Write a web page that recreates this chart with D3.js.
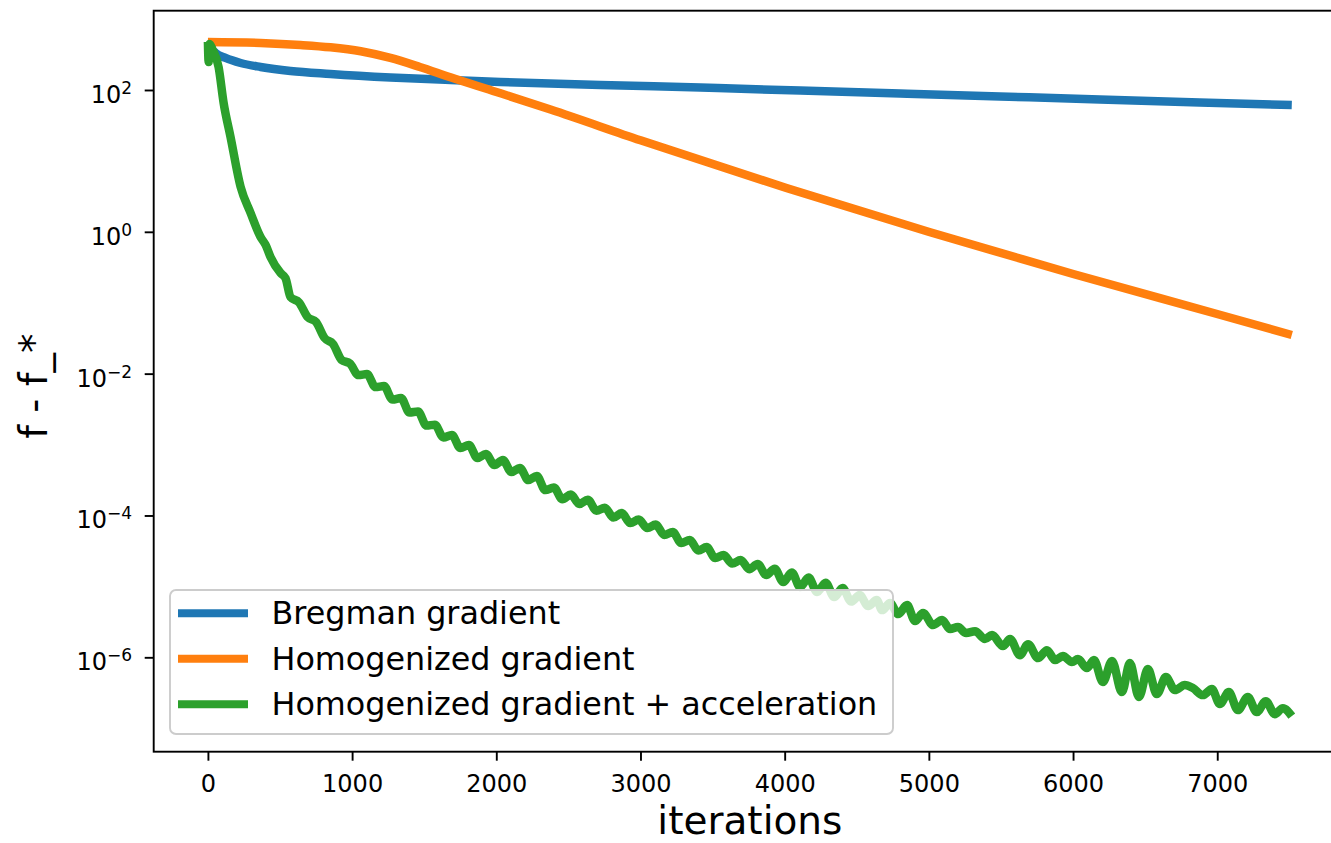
<!DOCTYPE html>
<html>
<head>
<meta charset="utf-8">
<script src="https://cdn.jsdelivr.net/npm/d3@7"></script>
<style>
  body { margin: 0; background: #fff; }
  text { font-family: "DejaVu Sans", sans-serif; fill: #000; }
</style>
</head>
<body>
<script>
// iterations / f - f_* for each method
var bregIter = [0, 19, 53, 122, 227, 365, 573, 850, 1266, 1682, 2029, 2722, 3415, 4108, 4801, 5494, 6186, 6879, 7517];
var bregVal = [475, 391, 333, 283, 240, 211, 185, 168, 150, 138, 130, 118, 108, 98.4, 89.3, 81.0, 73.4, 66.7, 61.4];

var homIter = [0, 365, 642, 850, 1060, 1266, 1470, 1682, 2001, 2376, 3000, 4012, 5003, 6001, 6999, 7517];
var homVal = [475, 460, 431, 400, 352, 283, 211, 151, 93.7, 53.0, 19.5, 4.15, 0.993, 0.254, 0.0693, 0.0351];

var accIter = [0, 5, 12, 33, 74, 109, 157, 227, 296, 365, 400, 434, 504, 538, 573,
  632, 691, 750, 809, 868, 927, 985, 1044, 1103, 1162, 1221, 1280, 1339, 1398, 1457,
  1516, 1574, 1633, 1692, 1751, 1810, 1869, 1928, 1987, 2046, 2105, 2164, 2222, 2281,
  2340, 2399, 2458, 2517, 2576, 2635, 2694, 2753, 2812, 2870, 2929, 2988, 3047, 3106,
  3165, 3224, 3283, 3342, 3401, 3459, 3518, 3577, 3636, 3695, 3754, 3813, 3872, 3931,
  3990, 4049, 4107, 4166, 4225, 4284, 4343, 4402, 4461, 4520, 4579, 4638, 4676, 4731,
  4787, 4849, 4904, 4960, 5029, 5092, 5147, 5202, 5258, 5320, 5389, 5438, 5514, 5563,
  5632, 5688, 5757, 5819, 5875, 5930, 5992, 6034, 6096, 6145, 6207, 6270, 6339, 6394,
  6457, 6519, 6581, 6644, 6706, 6775, 6831, 6900, 6963, 7018, 7080, 7143, 7212, 7274,
  7337, 7399, 7455, 7517];
var accVal = [475, 248, 446, 367, 211, 65.6, 21.7, 4.29, 1.84, 0.845, 0.652, 0.442, 0.262, 0.223, 0.120,
  0.101, 0.0628, 0.0535, 0.0318, 0.0262, 0.0156, 0.0139, 0.00955, 0.00986, 0.00647, 0.00668, 0.00431, 0.00453, 0.00283, 0.00292,
  0.00185, 0.00191, 0.00126, 0.00136, 8.93e-4, 9.84e-4, 6.46e-4, 7.35e-4, 5.14e-4, 6.05e-4, 4.09e-4, 4.67e-4, 3.16e-4, 3.60e-4,
  2.28e-4, 2.48e-4, 1.70e-4, 1.97e-4, 1.45e-4, 1.67e-4, 1.17e-4, 1.29e-4, 9.35e-5, 1.08e-4, 7.82e-5, 8.75e-5, 6.64e-5, 7.45e-5,
  5.30e-5, 5.83e-5, 4.08e-5, 4.50e-5, 3.20e-5, 3.58e-5, 2.51e-5, 2.77e-5, 2.10e-5, 2.35e-5, 1.75e-5, 2.07e-5, 1.45e-5, 1.78e-5,
  1.15e-5, 1.57e-5, 9.77e-6, 1.33e-5, 8.32e-6, 1.13e-5, 7.06e-6, 9.46e-6, 6.11e-6, 7.54e-6, 5.27e-6, 6.41e-6, 4.63e-6, 5.82e-6,
  4.07e-6, 5.45e-6, 3.24e-6, 4.21e-6, 2.85e-6, 3.35e-6, 2.50e-6, 2.67e-6, 2.20e-6, 2.34e-6, 1.81e-6, 2.06e-6, 1.44e-6, 1.81e-6,
  1.07e-6, 1.53e-6, 9.75e-7, 1.26e-6, 9.14e-7, 1.04e-6, 8.57e-7, 9.44e-7, 7.05e-7, 9.14e-7, 4.47e-7, 8.85e-7, 3.23e-7, 8.28e-7,
  2.75e-7, 6.82e-7, 3.03e-7, 5.26e-7, 3.45e-7, 4.06e-7, 3.68e-7, 2.93e-7, 3.56e-7, 2.19e-7, 3.23e-7, 1.80e-7, 2.75e-7, 1.69e-7,
  2.41e-7, 1.58e-7, 1.92e-7, 1.48e-7];

var seriesNames = ["Bregman gradient", "Homogenized gradient", "Homogenized gradient + acceleration"];
var seriesColors = ["#1f77b4", "#ff7f0e", "#2ca02c"];

var xTicks = [0, 1000, 2000, 3000, 4000, 5000, 6000, 7000];
var yTicks = [1e-6, 1e-4, 1e-2, 1e0, 1e2];
var yTickExp = ["\u22126", "\u22124", "\u22122", "0", "2"];

window.onload = function(){
    var w = 1331, h = 843;
    // plot box (right spine falls just outside the picture)
    var left = 153.7, right = 1346, top = 10.7, bottom = 751.7;

    var svg = d3.select("body")
      .append("svg")
      .attr("width", w)
      .attr("height", h);

    var x = d3.scaleLinear()
      .domain([-376, 7893])
      .range([left, right]);

    var y = d3.scaleLog()
      .domain([Math.pow(10, -7.331), Math.pow(10, 3.118)])
      .range([bottom, top]);

    svg.append("clipPath")
      .attr("id", "plotclip")
      .append("rect")
      .attr("x", left).attr("y", top)
      .attr("width", right - left).attr("height", bottom - top);

    var line = d3.line()
      .x(function(d){ return x(d[0]); })
      .y(function(d){ return y(d[1]); })
      .curve(d3.curveMonotoneX);

    var series = [d3.zip(bregIter, bregVal), d3.zip(homIter, homVal), d3.zip(accIter, accVal)];

    var lines = svg.append("g").attr("clip-path", "url(#plotclip)");
    series.forEach(function(s, i){
        lines.append("path")
          .datum(s)
          .attr("d", line)
          .attr("fill", "none")
          .attr("stroke", seriesColors[i])
          .attr("stroke-width", 8.5)
          .attr("stroke-linejoin", "round")
          .attr("stroke-linecap", "butt");
    });

    // x axis
    var xAxis = d3.axisBottom(x)
      .tickValues(xTicks)
      .tickFormat(d3.format("d"))
      .tickSize(9)
      .tickPadding(7);
    var gx = svg.append("g")
      .attr("transform", "translate(0," + bottom + ")")
      .call(xAxis);
    gx.select(".domain").remove();
    gx.selectAll(".tick line").attr("stroke", "#000").attr("stroke-width", 1.9);
    gx.selectAll(".tick text")
      .attr("font-family", "DejaVu Sans")
      .attr("font-size", 24)
      .attr("fill", "#000")
      .attr("dy", null)
      .attr("y", 40);

    // y axis, ticks only; labels are 10 with a superscript
    var yAxis = d3.axisLeft(y)
      .tickValues(yTicks)
      .tickFormat("")
      .tickSize(9);
    var gy = svg.append("g")
      .attr("transform", "translate(" + left + ",0)")
      .call(yAxis);
    gy.select(".domain").remove();
    gy.selectAll(".tick line").attr("stroke", "#000").attr("stroke-width", 1.9);

    var ylab = svg.append("g").selectAll("text")
      .data(yTicks)
      .enter().append("text")
      .attr("x", 132)
      .attr("y", function(d){ return y(d) + 13; })
      .attr("text-anchor", "end")
      .attr("font-size", 24);
    ylab.append("tspan").text("10");
    ylab.append("tspan")
      .attr("font-size", 17)
      .attr("dy", -9)
      .text(function(d, i){ return yTickExp[i]; });

    // spines
    svg.append("rect")
      .attr("x", left).attr("y", top)
      .attr("width", right - left).attr("height", bottom - top)
      .attr("fill", "none")
      .attr("stroke", "#000")
      .attr("stroke-width", 1.9);

    // axis titles
    svg.append("text")
      .attr("x", (left + right) / 2)
      .attr("y", 833.5)
      .attr("text-anchor", "middle")
      .attr("font-size", 39)
      .text("iterations");

    svg.append("text")
      .attr("transform", "translate(47," + ((top + bottom) / 2 + 5) + ") rotate(-90)")
      .attr("text-anchor", "middle")
      .attr("font-size", 39)
      .text("f - f_*");

    // legend
    var legend = svg.append("g");
    legend.append("rect")
      .attr("x", 170).attr("y", 590)
      .attr("width", 723).attr("height", 144)
      .attr("rx", 6).attr("ry", 6)
      .attr("fill", "#fff")
      .attr("fill-opacity", 0.8)
      .attr("stroke", "#cccccc")
      .attr("stroke-width", 1.9);

    var rows = legend.selectAll("g.row")
      .data(seriesNames)
      .enter().append("g")
      .attr("class", "row")
      .attr("transform", function(d, i){ return "translate(0," + (613.3 + i * 45.5) + ")"; });
    rows.append("line")
      .attr("x1", 178).attr("x2", 248)
      .attr("stroke", function(d, i){ return seriesColors[i]; })
      .attr("stroke-width", 8);
    rows.append("text")
      .attr("x", 271.5)
      .attr("y", 11)
      .attr("font-size", 31.8)
      .text(function(d){ return d; });
};
</script>
</body>
</html>
